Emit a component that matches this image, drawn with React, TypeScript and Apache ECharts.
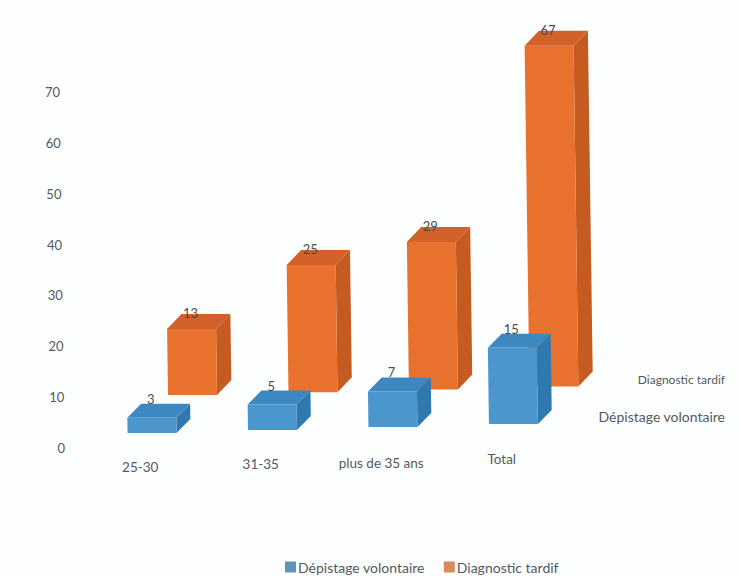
import React, { useEffect, useRef } from "react";
import * as echarts from "echarts";

const categories = ["25-30", "31-35", "plus de 35 ans", "Total"];
const volontaire = [3, 5, 7, 15];
const tardif = [13, 25, 29, 67];
const valueTicks = [0, 10, 20, 30, 40, 50, 60, 70];
const nameVolontaire = "Dépistage volontaire";
const nameTardif = "Diagnostic tardif";

const FONT = "Lato";
const TEXT = "#55595c";
const BLUE = { front: "#4C96CE", side: "#2F79AF", top: "#3D88C0" };
const ORANGE = { front: "#E8722D", side: "#C55B20", top: "#D2612A" };

// The floor of the 3D scene rises towards the right and the verticals lean slightly.
const LEAN = 0.014;
const AXIS_ZERO_Y = 448;
const lean = (x: number, y: number) => [x + (y - AXIS_ZERO_Y) * LEAN, y];

function bar3d(
  colors: { front: string; side: string; top: string },
  floorStart: number,
  floorStep: number,
  shiftX: number,
  depthX: number,
  depthY: number,
  labelRise: number
) {
  return (params: any, api: any) => {
    const i = api.value(0);
    const v = api.value(1);
    const base = api.coord([i, 0]);
    const head = api.coord([i, v]);
    const width = 49;
    const floor = floorStart + floorStep * i;
    const left = base[0] + shiftX - width / 2;
    const right = left + width;
    const bottom = base[1] + floor;
    const top = head[1] + floor;
    const poly = (pts: number[][], fill: string) => ({
      type: "polygon",
      shape: { points: pts.map((p) => lean(p[0], p[1])) },
      style: { fill },
    });
    return {
      type: "group",
      children: [
        poly(
          [
            [right, bottom],
            [right + depthX, bottom + depthY],
            [right + depthX, top + depthY],
            [right, top],
          ],
          colors.side
        ),
        poly(
          [
            [left, top],
            [right, top],
            [right + depthX, top + depthY],
            [left + depthX, top + depthY],
          ],
          colors.top
        ),
        poly(
          [
            [left, bottom],
            [right, bottom],
            [right, top],
            [left, top],
          ],
          colors.front
        ),
        {
          type: "text",
          x: lean(left + width / 2 - 1, top)[0],
          y: top - labelRise,
          style: {
            text: String(v),
            font: `13px ${FONT}`,
            fill: "#4a4d50",
            align: "center",
            verticalAlign: "middle",
          },
        },
      ],
    };
  };
}

// Each tick label sits a little further right going down the axis.
const valueRich: Record<string, any> = {};
valueTicks.forEach((t) => {
  valueRich[`t${t}`] = {
    fontFamily: FONT,
    fontSize: 13,
    color: TEXT,
    padding: [0, (t / 70) * 5, 0, 0],
  };
});

const categoryRich: Record<string, any> = {};
const categoryDrop = [11, 8, 7, 3];
categories.forEach((c, i) => {
  categoryRich[`c${i}`] = {
    fontFamily: FONT,
    fontSize: 13.5,
    color: TEXT,
    padding: [categoryDrop[i], 24, 0, 0],
  };
});

const sideLabel = (text: string, right: number, y: number, size: number) => ({
  type: "text",
  x: right,
  y,
  style: {
    text,
    font: `${size}px ${FONT}`,
    fill: TEXT,
    align: "right",
    verticalAlign: "middle",
  },
});

export default function App() {
  const ref = useRef<HTMLDivElement>(null);
  useEffect(() => {
    const chart = echarts.init(ref.current!, undefined, { renderer: "svg" });
    chart.setOption({
      animation: false,
      backgroundColor: "#fdfefe",
      grid: { left: 92, width: 482, top: 92, height: 356 },
      legend: {
        left: 280,
        top: 555,
        itemWidth: 11,
        itemHeight: 11,
        itemGap: 19,
        icon: "rect",
        textStyle: { fontFamily: FONT, fontSize: 14, color: TEXT, padding: [0, 0, 0, -3] },
        data: [
          { name: nameVolontaire, itemStyle: { color: "#5F93B8" } },
          { name: nameTardif, itemStyle: { color: "#D98A5C" } },
        ],
      },
      xAxis: {
        type: "category",
        data: categories,
        axisLine: { show: false },
        axisTick: { show: false },
        axisLabel: {
          margin: 1,
          interval: 0,
          formatter: (value: string) => `{c${categories.indexOf(value)}|${value}}`,
          rich: categoryRich,
        },
      },
      yAxis: {
        type: "value",
        min: 0,
        max: 70,
        interval: 10,
        splitLine: { show: false },
        axisLine: { show: false },
        axisTick: { show: false },
        axisLabel: {
          margin: 27,
          formatter: (value: number) => `{t${value}|${value}}`,
          rich: valueRich,
        },
      },
      series: [
        {
          name: nameTardif,
          type: "custom",
          clip: false,
          itemStyle: { color: "#D98A5C" },
          renderItem: bar3d(ORANGE, -53, -2.8, 41, 14.5, -15, 16),
          data: tardif.map((v, i) => [i, v]),
          encode: { x: 0, y: 1 },
        },
        {
          name: nameVolontaire,
          type: "custom",
          clip: false,
          itemStyle: { color: "#5F93B8" },
          renderItem: bar3d(BLUE, -15, -3, 0, 14, -14, 19),
          data: volontaire.map((v, i) => [i, v]),
          encode: { x: 0, y: 1 },
        },
      ],
      graphic: [
        sideLabel(nameTardif, 725, 379, 12),
        sideLabel(nameVolontaire, 725, 416, 14),
      ],
    });
    return () => chart.dispose();
  }, []);
  return (
    <div
      ref={ref}
      style={{ position: "absolute", left: 0, top: 0, width: 741, height: 577 }}
    />
  );
}
